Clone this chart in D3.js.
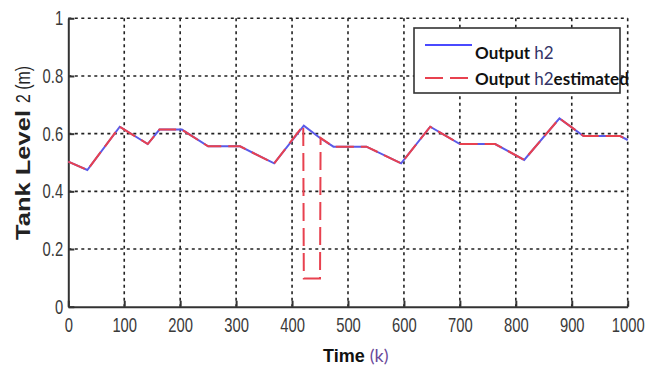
<!DOCTYPE html>
<html>
<head>
<meta charset="utf-8">
<script src="https://cdn.jsdelivr.net/npm/d3@7/dist/d3.min.js"></script>
<style>
  body { margin: 0; background: #fff; }
  svg { display: block; }
</style>
</head>
<body>
<div id="chart"></div>
<script>
// data
const timeK   = [0, 34, 92, 142, 163, 203, 250, 307, 368, 421, 450, 474, 533, 595, 647, 700, 763, 815, 878, 921, 986, 1000];
const h2      = [0.503, 0.474, 0.624, 0.564, 0.614, 0.614, 0.556, 0.556, 0.497, 0.628, 0.585, 0.555, 0.555, 0.497, 0.624, 0.564, 0.564, 0.509, 0.653, 0.592, 0.592, 0.578];
// estimate follows h2 except the glitch around k = 420..451
const estTime = [0, 34, 92, 142, 163, 203, 250, 307, 368, 420, 421, 450, 451, 474, 533, 595, 647, 700, 763, 815, 878, 921, 986, 1000];
const h2est   = [0.503, 0.474, 0.624, 0.564, 0.614, 0.614, 0.556, 0.556, 0.497, 0.628, 0.098, 0.098, 0.585, 0.555, 0.555, 0.497, 0.624, 0.564, 0.564, 0.509, 0.653, 0.592, 0.592, 0.578];
const xTicks = [0, 100, 200, 300, 400, 500, 600, 700, 800, 900, 1000];
const yTicks = [0, 0.2, 0.4, 0.6, 0.8, 1];

const width = 645, height = 365;
const x = d3.scaleLinear().domain([0, 1000]).range([68.3, 627.7]);
const y = d3.scaleLinear().domain([0, 1]).range([306.7, 18.3]);

const svg = d3.select("#chart").append("svg")
  .attr("width", width).attr("height", height);

const tickFont = "'Liberation Sans', Arial, sans-serif";

// grid (dotted)
svg.selectAll(".vgrid").data(xTicks.slice(1)).enter().append("line")
  .attr("x1", d => x(d)).attr("x2", d => x(d))
  .attr("y1", y(1)).attr("y2", y(0))
  .attr("stroke", "#222").attr("stroke-width", 1.6)
  .attr("stroke-dasharray", "3,3.5");
svg.selectAll(".hgrid").data(yTicks.slice(1)).enter().append("line")
  .attr("x1", x(0)).attr("x2", x(1000))
  .attr("y1", d => y(d)).attr("y2", d => y(d))
  .attr("stroke", "#222").attr("stroke-width", 1.6)
  .attr("stroke-dasharray", "3,3.5");

// axes
const xAxis = d3.axisBottom(x).tickValues(xTicks).tickSizeInner(-6).tickSizeOuter(0).tickPadding(11)
  .tickFormat(d3.format("d"));
const yAxis = d3.axisLeft(y).tickValues(yTicks).tickSizeInner(-6).tickSizeOuter(0).tickPadding(5)
  .tickFormat(d3.format("~g"));

const gx = svg.append("g").attr("transform", `translate(0,${y(0)})`).call(xAxis);
const gy = svg.append("g").attr("transform", `translate(${x(0)},0)`).call(yAxis);
[gx, gy].forEach(g => {
  g.select(".domain").attr("stroke", "#333").attr("stroke-width", 2);
  g.selectAll(".tick line").attr("stroke", "#333").attr("stroke-width", 2);
  g.selectAll(".tick text").attr("fill", "#3a3a3a")
    .style("font-family", tickFont).style("font-size", "20px");
});
// condensed look of the original tick labels
gx.selectAll(".tick text").attr("transform", "scale(0.74,1)");
gy.selectAll(".tick text").attr("transform", "scale(0.74,1)").attr("x", -7);

// lines
const line = d3.line().x(d => x(d[0])).y(d => y(d[1]));
svg.append("path")
  .datum(timeK.map((t, i) => [t, h2[i]]))
  .attr("d", line).attr("fill", "none")
  .attr("stroke", "#5a5ae8").attr("stroke-width", 2);
svg.append("path")
  .datum(estTime.map((t, i) => [t, h2est[i]]))
  .attr("d", line).attr("fill", "none")
  .attr("stroke", "#e8414f").attr("stroke-width", 2)
  .attr("stroke-dasharray", "18,7");

// legend
const lg = svg.append("g");
lg.append("rect").attr("x", 414).attr("y", 28).attr("width", 206).attr("height", 65)
  .attr("fill", "#fff").attr("stroke", "#333").attr("stroke-width", 1.6);
lg.append("line").attr("x1", 425).attr("x2", 472).attr("y1", 45).attr("y2", 45)
  .attr("stroke", "#4a4aff").attr("stroke-width", 2);
lg.append("line").attr("x1", 425).attr("x2", 474).attr("y1", 78).attr("y2", 78)
  .attr("stroke", "#e8414f").attr("stroke-width", 2).attr("stroke-dasharray", "18,7");

const legendItems = ["h2", "h2estimated"];
legendItems.forEach((lab, i) => {
  const t = lg.append("text").attr("x", 475).attr("y", 59 + i * 26)
    .style("font-family", "Lato, 'Open Sans', sans-serif").style("font-size", "17px");
  t.append("tspan").text("Output ").attr("font-weight", "bold").attr("fill", "#111");
  t.append("tspan").text("h2").attr("fill", "#333366");
  if (lab.length > 2) t.append("tspan").text(lab.slice(2)).attr("font-weight", "bold").attr("fill", "#111");
});

// axis titles
const xt = svg.append("text").attr("x", 323).attr("y", 362)
  .style("font-family", "'Liberation Sans', Arial, sans-serif").style("font-size", "18px");
xt.append("tspan").text("Time ").attr("font-weight", "bold").attr("fill", "#111");
xt.append("tspan").text("(k)").attr("fill", "#6a4a9a").style("font-family", "Lato, sans-serif");

svg.append("text")
  .attr("transform", "translate(30,240) rotate(-90)")
  .attr("textLength", 130).attr("lengthAdjust", "spacingAndGlyphs")
  .style("font-family", "'Liberation Sans', Arial, sans-serif").style("font-size", "21px")
  .attr("font-weight", "bold").attr("fill", "#222")
  .text("Tank Level");
svg.append("text")
  .attr("transform", "translate(30,103) rotate(-90)")
  .attr("textLength", 37).attr("lengthAdjust", "spacingAndGlyphs")
  .style("font-family", "'Liberation Sans', Arial, sans-serif").style("font-size", "20px")
  .attr("fill", "#222")
  .text("2 (m)");
</script>
</body>
</html>
